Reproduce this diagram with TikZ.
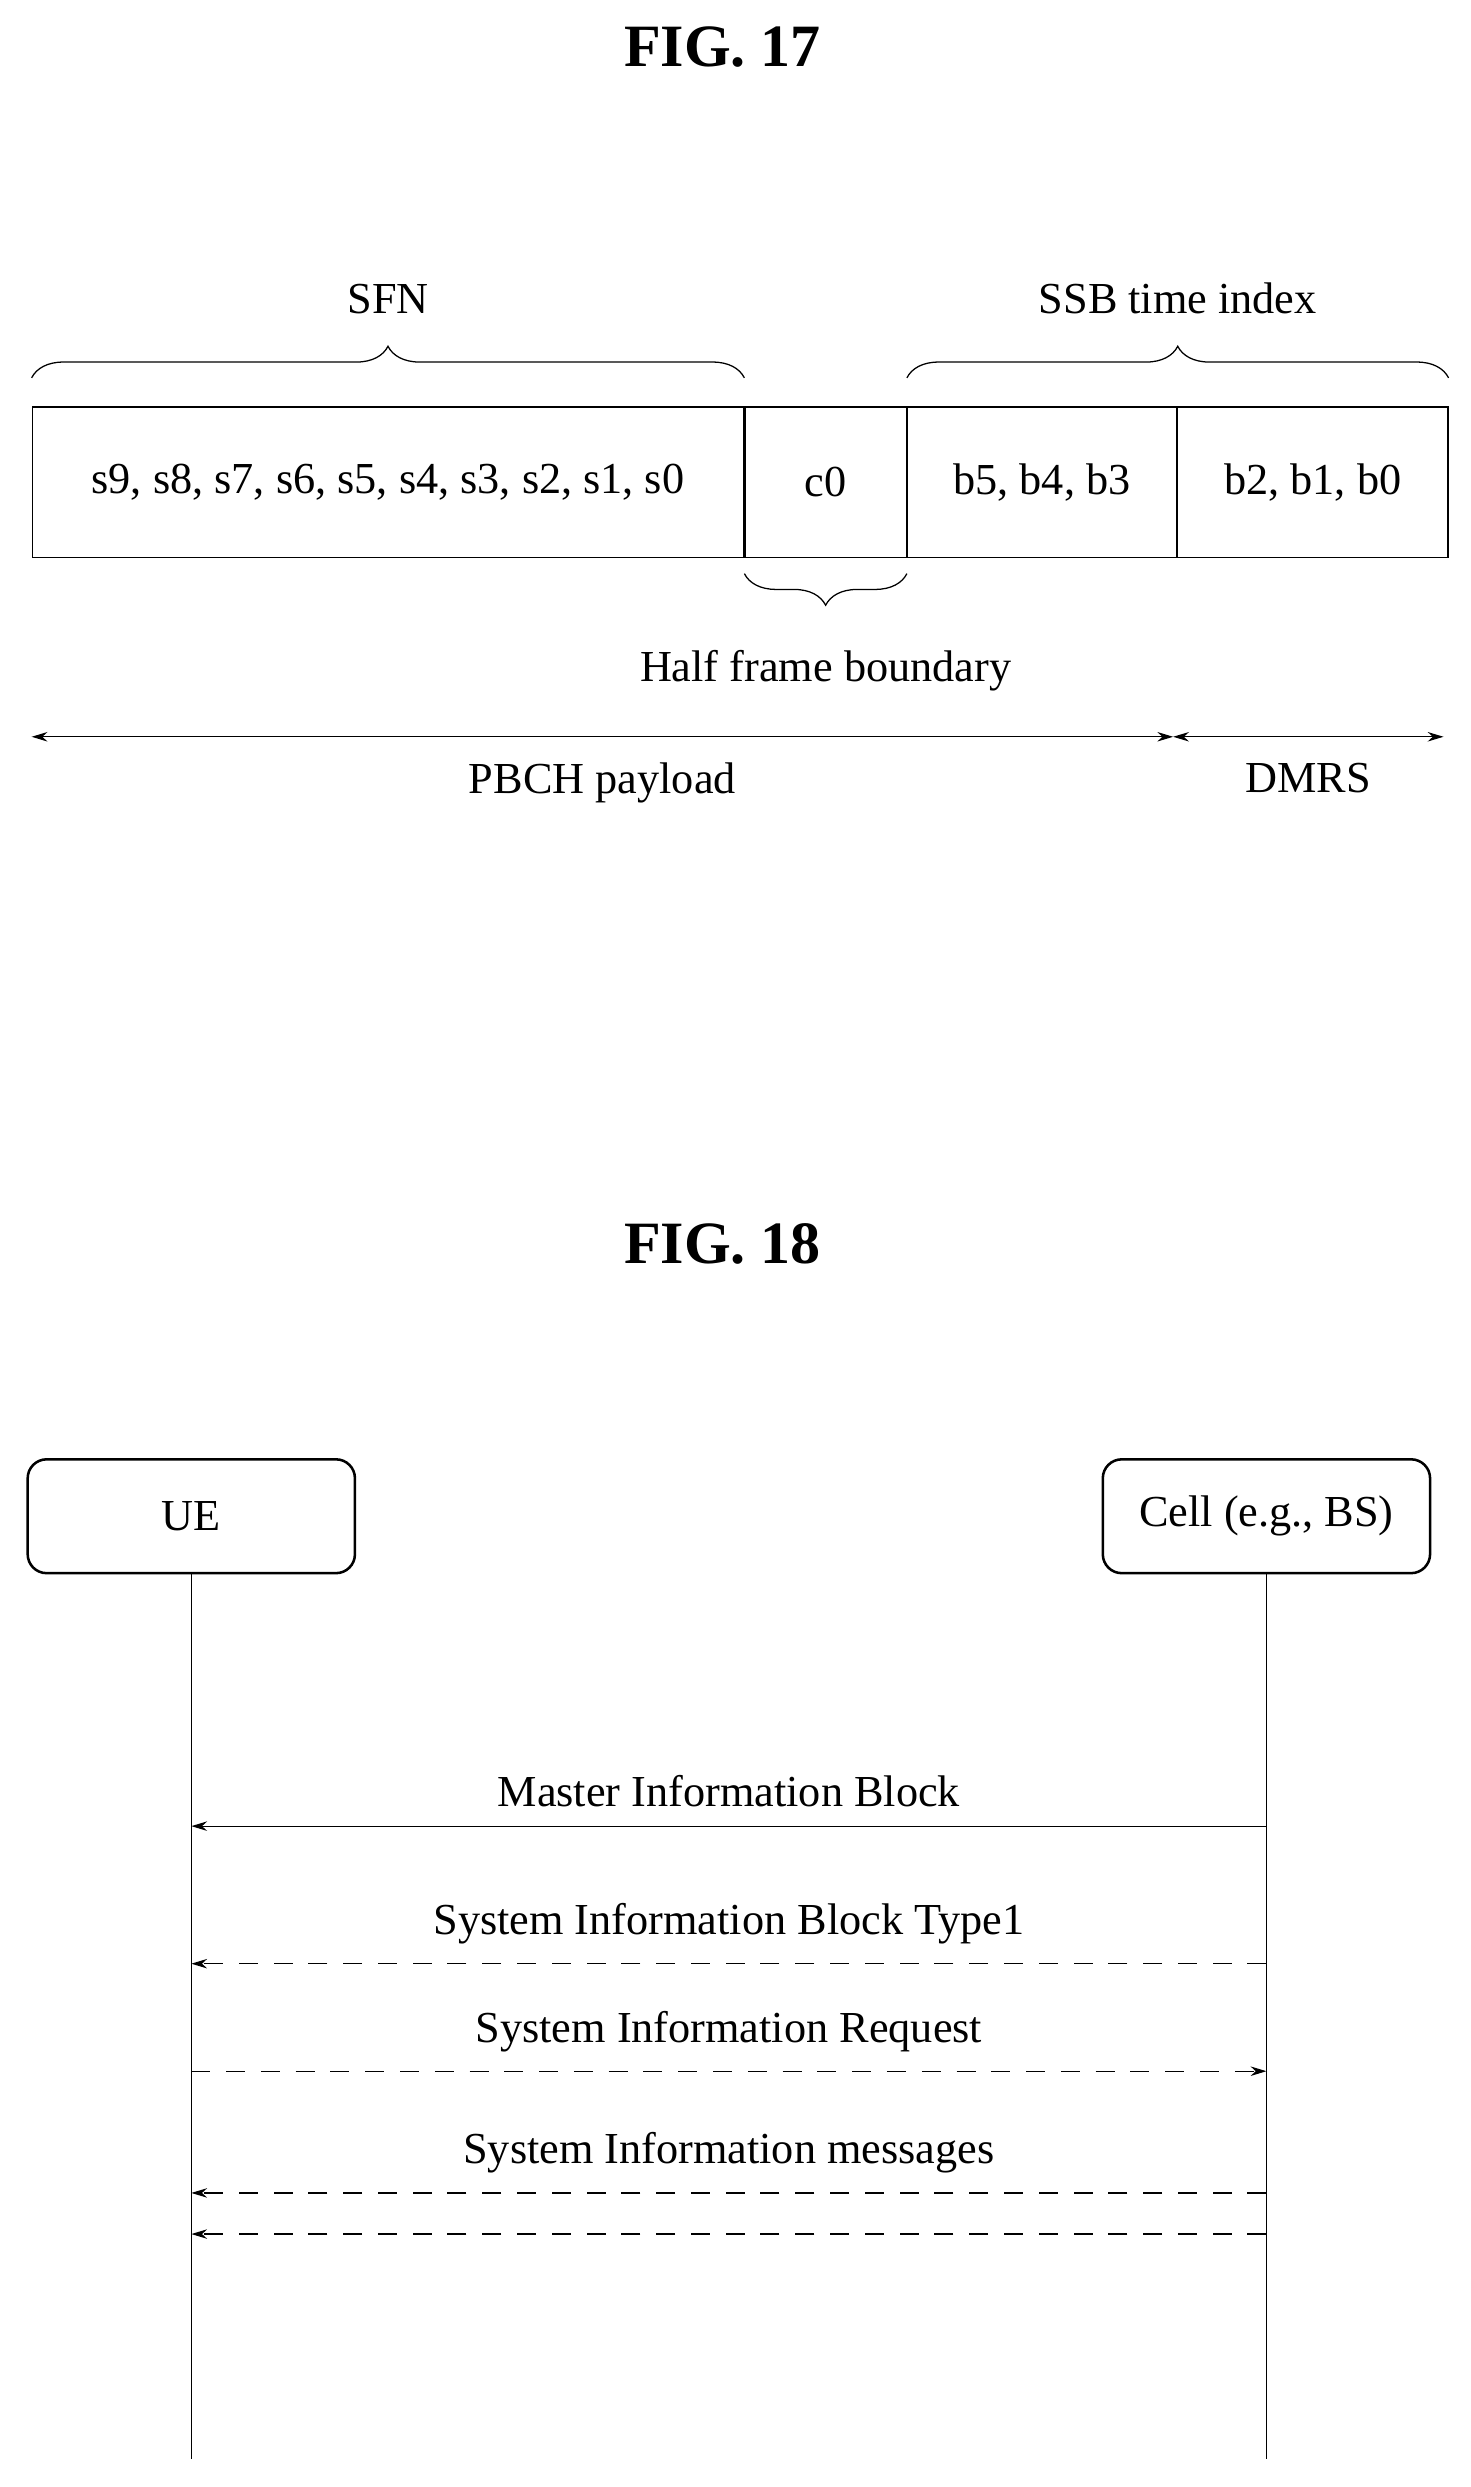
\documentclass[tikz,border=0pt]{standalone}
\usepackage{fontspec}
\setmainfont{Liberation Serif}
\usetikzlibrary{positioning,decorations.pathreplacing,arrows.meta}
\begin{document}
\begin{tikzpicture}[x=0.5pt,y=-0.5pt,
    txt/.style={font=\fontsize{14}{16}\selectfont,inner sep=0pt},
    fig/.style={font=\fontsize{19}{22}\selectfont\bfseries,inner sep=0pt},
    fld/.style={draw,minimum height=47.5pt,inner sep=0pt,font=\fontsize{14}{16}\selectfont},
    brc/.style={decorate,decoration={brace,amplitude=10pt},thin},
    ent/.style={draw,thick,rounded corners=6pt,minimum width=103.5pt,
        minimum height=36pt,font=\fontsize{14}{16}\selectfont},
    msg/.style={-{Stealth[length=5pt,width=3pt]},thin},
    dsh/.style={msg,dash pattern=on 6pt off 5pt}]

    \useasboundingbox (0,0) rectangle (930,1573);

    % FIG. 17
    \node[fig] (f17) at (457,30) {FIG. 17};

    \node[fld,minimum width=225pt,anchor=north west] (sfn) at (20,257)
    {s9,\ s8,\ s7,\ s6,\ s5,\ s4,\ s3,\ s2,\ s1,\ s0};
    \node[fld,minimum width=51pt,right=0pt of sfn] (c0) {c0};
    \node[fld,minimum width=85pt,right=0pt of c0] (bhi) {b5,\ b4,\ b3};
    \node[fld,minimum width=85.5pt,right=0pt of bhi] (blo) {b2,\ b1,\ b0};

    \draw[brc] ([yshift=9pt]sfn.north west) -- ([yshift=9pt]sfn.north east)
    node[midway,above=20pt,txt] (lsfn) {SFN};
    \draw[brc] ([yshift=9pt]bhi.north west) -- ([yshift=9pt]blo.north east)
    node[midway,above=20pt,txt] (lssb) {SSB time index};
    \draw[brc] ([yshift=-5pt]c0.south east) -- ([yshift=-5pt]c0.south west)
    node[midway,below=24pt,txt] (lhf) {Half frame boundary};

    \coordinate (pl) at (20,466);
    \coordinate (pm) at (742,466);
    \coordinate (pr) at (913,466);
    \draw[{Stealth[length=5pt,width=3pt]}-{Stealth[length=5pt,width=3pt]},thin]
    (pl) -- node[below=8pt,txt] {PBCH payload} (pm);
    \draw[{Stealth[length=5pt,width=3pt]}-{Stealth[length=5pt,width=3pt]},thin]
    (pm) -- node[below=8pt,txt] {DMRS} (pr);

    % FIG. 18
    \node[fig] (f18) at (457,787) {FIG. 18};

    \node[ent] (ue) at (121,959) {UE};
    \node[ent] (cell) at (801,959) {Cell (e.g., BS)};
    \coordinate (ueend) at (121,1555);
    \coordinate (cellend) at (801,1555);
    \draw[thin] (ue) -- (ueend);
    \draw[thin] (cell) -- (cellend);

    \coordinate (c1) at (801,1155); \coordinate (u1) at (121,1155);
    \coordinate (c2) at (801,1242); \coordinate (u2) at (121,1242);
    \coordinate (c3) at (801,1310); \coordinate (u3) at (121,1310);
    \coordinate (c4) at (801,1387); \coordinate (u4) at (121,1387);
    \coordinate (c5) at (801,1413); \coordinate (u5) at (121,1413);

    \draw[msg] (c1) -- node[above=6pt,txt] {Master Information Block} (u1);
    \draw[dsh] (c2) -- node[above=6pt,txt] {System Information Block Type1} (u2);
    \draw[dsh] (u3) -- node[above=6pt,txt] {System Information Request} (c3);
    \draw[dsh] (c4) -- node[above=6pt,txt] {System Information messages} (u4);
    \draw[dsh] (c5) -- (u5);
  \end{tikzpicture}
\end{document}
